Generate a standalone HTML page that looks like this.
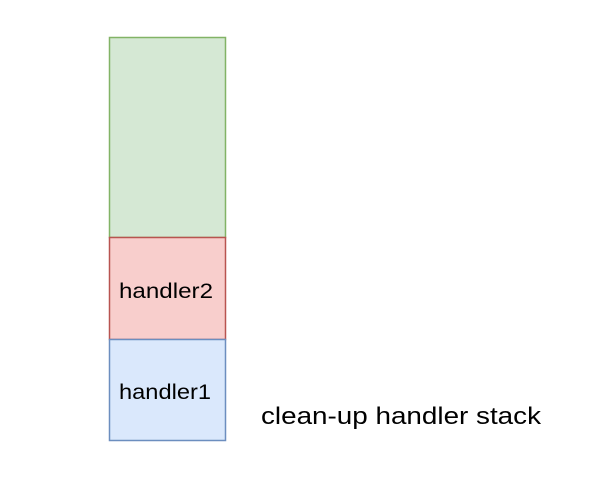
<!DOCTYPE html>
<html><head><style>html,body{margin:0;padding:0;background:#fff;}</style></head>
<body>
<svg width="598" height="488" xmlns="http://www.w3.org/2000/svg" font-family="Liberation Sans, Arial, sans-serif">
<rect x="109.5" y="37.5" width="116" height="200" fill="#d5e8d4" stroke="#82b366" stroke-width="1.5"/>
<rect x="109.5" y="237.5" width="116" height="102" fill="#f8cecc" stroke="#b85450" stroke-width="1.5"/>
<rect x="109.5" y="339.5" width="116" height="101" fill="#dae8fc" stroke="#6c8ebf" stroke-width="1.5"/>
<text x="119" y="298" font-size="21" textLength="94" lengthAdjust="spacingAndGlyphs">handler2</text>
<text x="119" y="399" font-size="21" textLength="92" lengthAdjust="spacingAndGlyphs">handler1</text>
<text x="261" y="424" font-size="24" textLength="280" lengthAdjust="spacingAndGlyphs">clean-up handler stack</text>
</svg>
</body></html>
